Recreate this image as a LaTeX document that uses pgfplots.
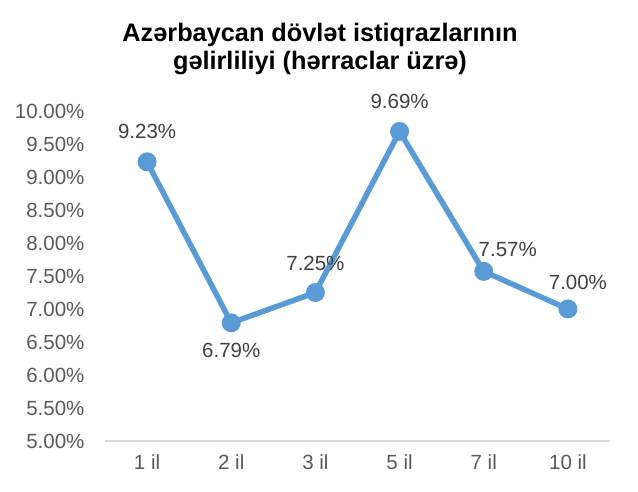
\documentclass[border=0pt]{standalone}
\usepackage{pgfplots}
\pgfplotsset{compat=1.18}
\usepackage{fontspec}
\setmainfont{Liberation Sans}
\definecolor{lineblue}{HTML}{5B9BD5}
\definecolor{ticktxt}{HTML}{595959}
\definecolor{lbltxt}{HTML}{404040}
\definecolor{axgray}{HTML}{D9D9D9}
\begin{document}
\begin{tikzpicture}[x=1pt,y=1pt]
\useasboundingbox (0,0) rectangle (638,492);
\node[font=\fontsize{25.3}{28}\selectfont\bfseries, align=center] at (320,443) {Azərbaycan dövlət istiqrazlarının\\gəlirliliyi (hərraclar üzrə)};
\begin{axis}[
  at={(105pt,51pt)}, anchor=south west,
  scale only axis, width=505pt, height=330pt,
  xmin=-0.5, xmax=5.5, ymin=5, ymax=10,
  xtick={0,1,2,3,4,5},
  xticklabels={1 il,2 il,3 il,5 il,7 il,10 il},
  ytick={5,5.5,6,6.5,7,7.5,8,8.5,9,9.5,10},
  yticklabel={\pgfmathprintnumber[fixed,fixed zerofill,precision=2]{\tick}\%},
  /pgf/number format/assume math mode=true,
  axis y line*=left, axis x line*=bottom,
  y axis line style={draw=none},
  x axis line style={draw=axgray, line width=1.5pt, -},
  major tick length=0pt,
  tick style={draw=none},
  ticklabel style={font=\fontsize{20.5}{24}\selectfont, text=ticktxt},
  xticklabel style={yshift=-10pt},
  yticklabel style={xshift=-17pt},
  clip=false,
]
\addplot[color=lineblue, line width=5.5pt, mark=*, mark size=6.7pt, mark options={fill=lineblue, draw=none}]
  coordinates {(0,9.23) (1,6.79) (2,7.25) (3,9.69) (4,7.57) (5,7.00)};
\begin{scope}[every node/.style={font=\fontsize{20.5}{24}\selectfont, text=lbltxt}]
\node at (axis cs:0,9.23) [yshift=30pt] {9.23\%};
\node at (axis cs:1,6.79) [yshift=-28pt] {6.79\%};
\node at (axis cs:2,7.25) [yshift=29pt] {7.25\%};
\node at (axis cs:3,9.69) [yshift=30pt] {9.69\%};
\node at (axis cs:4,7.57) [xshift=24pt, yshift=22pt] {7.57\%};
\node at (axis cs:5,7.00) [xshift=10pt, yshift=27pt] {7.00\%};
\end{scope}
\end{axis}
\end{tikzpicture}
\end{document}
